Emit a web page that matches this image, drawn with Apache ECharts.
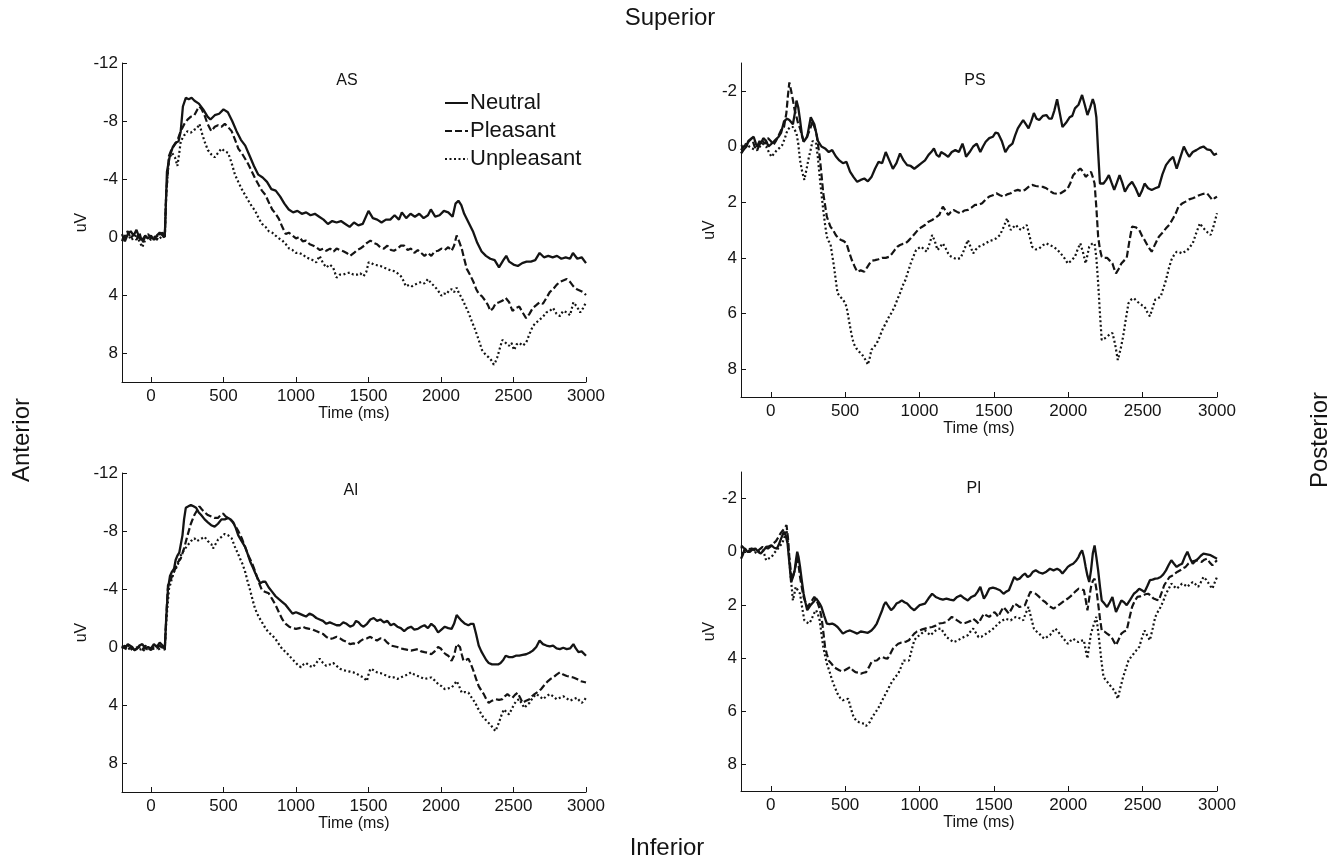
<!DOCTYPE html>
<html><head><meta charset="utf-8">
<script src="https://cdn.jsdelivr.net/npm/echarts@6/dist/echarts.min.js"></script>
<style>html,body{margin:0;padding:0;background:#fff}#c{width:1342px;height:861px}</style>
</head><body><div id="c"></div>
<script>
const xTicks=[0,500,1000,1500,2000,2500,3000];
const yTicksA=[-12,-8,-4,0,4,8];
const yTicksP=[-2,0,2,4,6,8];
const panelTitles=['AS','PS','AI','PI'];
const seriesNames=['Neutral','Pleasant','Unpleasant'];

const AS_neutral=[[-200,-0.2],[-180,0.3],[-160,-0.2],[-140,-0.4],[-120,-0.1],[-100,-0.5],[-80,0.1],[-60,0.2],[-40,-0.1],[-20,0.1],[0,-0.1],[20,0.2],[40,-0.1],[60,-0.3],[80,-0.1],[95,0.0],[110,-4.5],[130,-5.6],[150,-6.2],[170,-6.5],[190,-6.6],[205,-7.3],[220,-9.0],[240,-9.6],[260,-9.5],[280,-9.6],[300,-9.4],[330,-9.2],[360,-8.8],[390,-8.3],[410,-8.1],[440,-8.4],[470,-8.5],[500,-8.8],[530,-8.6],[560,-8.0],[590,-7.3],[620,-6.7],[650,-6.3],[680,-5.6],[710,-4.9],[740,-4.3],[770,-4.1],[800,-3.8],[830,-3.3],[860,-3.2],[890,-2.8],[920,-2.3],[950,-1.9],[980,-1.7],[1010,-1.8],[1040,-1.6],[1070,-1.7],[1100,-1.5],[1130,-1.6],[1160,-1.4],[1190,-1.2],[1220,-0.9],[1250,-1.1],[1280,-1.0],[1310,-1.1],[1340,-0.9],[1370,-0.7],[1400,-1.0],[1430,-0.8],[1460,-0.9],[1500,-1.8],[1530,-1.3],[1560,-1.2],[1590,-1.0],[1620,-1.2],[1650,-1.2],[1680,-1.5],[1710,-1.2],[1730,-1.7],[1760,-1.3],[1790,-1.6],[1820,-1.4],[1850,-1.6],[1880,-1.3],[1910,-1.5],[1930,-1.9],[1960,-1.4],[1990,-1.5],[2020,-1.8],[2050,-1.7],[2080,-1.4],[2100,-2.3],[2120,-2.5],[2140,-2.2],[2160,-1.6],[2190,-1.0],[2220,-0.4],[2250,0.4],[2280,1.0],[2310,1.3],[2340,1.5],[2370,1.6],[2400,2.1],[2430,1.6],[2450,1.3],[2470,1.7],[2500,1.9],[2530,2.0],[2560,1.8],[2590,1.7],[2620,1.7],[2650,1.6],[2680,1.1],[2710,1.4],[2740,1.3],[2770,1.4],[2800,1.3],[2830,1.5],[2860,1.4],[2890,1.5],[2910,1.1],[2940,1.5],[2970,1.4],[3000,1.8]];
const AS_pleasant=[[-200,0.3],[-180,-0.1],[-160,-0.4],[-140,0.1],[-120,-0.2],[-100,0.2],[-80,-0.3],[-60,0.4],[-40,0.0],[-20,-0.2],[0,0.1],[20,-0.1],[40,0.2],[60,-0.2],[80,-0.3],[95,0.0],[105,-3.0],[124,-5.6],[140,-6.0],[159,-6.3],[180,-6.6],[205,-7.3],[230,-7.8],[252,-8.1],[275,-8.3],[299,-8.4],[320,-8.8],[334,-9.0],[350,-8.8],[369,-8.4],[390,-7.8],[416,-7.3],[440,-7.6],[462,-7.7],[485,-7.6],[509,-7.8],[530,-7.6],[556,-7.3],[580,-6.7],[602,-6.1],[625,-5.8],[649,-5.4],[672,-5.0],[696,-4.5],[720,-4.0],[742,-3.6],[765,-3.2],[789,-2.9],[812,-2.4],[836,-1.9],[860,-1.6],[882,-1.25],[905,-0.7],[929,-0.2],[950,-0.3],[976,-0.1],[1000,0.1],[1023,0.0],[1046,0.3],[1069,0.25],[1095,0.5],[1120,0.6],[1139,0.7],[1165,0.9],[1190,0.8],[1209,0.95],[1235,0.8],[1260,1.0],[1280,0.8],[1305,0.9],[1330,1.0],[1349,1.1],[1373,1.3],[1400,1.1],[1420,0.9],[1443,0.8],[1470,0.6],[1490,0.4],[1513,0.25],[1535,0.4],[1559,0.5],[1580,0.7],[1606,0.8],[1630,0.6],[1655,0.9],[1676,0.95],[1700,0.8],[1723,0.6],[1746,0.6],[1770,0.9],[1793,0.8],[1816,1.1],[1840,0.9],[1863,1.1],[1886,1.3],[1910,1.1],[1933,1.3],[1956,1.0],[1980,0.95],[2003,0.8],[2026,0.9],[2050,0.7],[2073,0.95],[2090,0.6],[2108,-0.1],[2125,0.3],[2143,0.8],[2160,1.5],[2178,2.2],[2200,2.6],[2224,3.1],[2243,3.6],[2260,3.9],[2283,4.1],[2306,4.4],[2324,4.7],[2341,5.1],[2360,4.9],[2376,4.6],[2400,4.5],[2423,4.4],[2446,4.2],[2470,4.5],[2493,5.1],[2515,4.9],[2540,4.8],[2563,5.2],[2587,5.6],[2610,5.3],[2633,4.9],[2657,4.7],[2680,4.5],[2703,4.6],[2727,4.2],[2750,3.8],[2773,3.6],[2797,3.3],[2820,3.1],[2843,3.0],[2867,2.9],[2890,3.1],[2913,3.4],[2937,3.6],[2960,3.7],[2980,3.8],[3000,4.0]];
const AS_unpleasant=[[-200,0.2],[-180,0.0],[-160,-0.3],[-140,0.2],[-120,0.1],[-100,-0.2],[-80,0.3],[-60,0.7],[-40,0.2],[-20,0.0],[0,0.2],[20,0.1],[40,-0.1],[60,0.1],[80,-0.1],[95,0.1],[105,-3.0],[124,-5.4],[145,-5.8],[165,-5.5],[182,-4.9],[195,-5.8],[205,-6.6],[228,-7.0],[252,-7.3],[275,-7.2],[299,-7.4],[318,-7.5],[334,-7.8],[350,-7.2],[369,-6.6],[392,-6.0],[415,-5.7],[439,-5.5],[462,-5.8],[486,-6.1],[509,-5.9],[532,-5.8],[556,-5.1],[579,-4.3],[602,-3.8],[626,-3.3],[649,-2.9],[672,-2.5],[696,-2.1],[719,-1.8],[742,-1.3],[766,-0.9],[790,-0.7],[812,-0.4],[836,-0.3],[859,-0.1],[883,0.1],[906,0.25],[930,0.5],[953,0.8],[976,0.9],[1000,1.1],[1023,1.1],[1046,1.2],[1070,1.4],[1093,1.5],[1116,1.6],[1139,1.75],[1163,1.3],[1186,1.8],[1209,2.1],[1233,1.9],[1256,2.1],[1280,2.8],[1303,2.6],[1326,2.6],[1350,2.5],[1373,2.45],[1396,2.6],[1420,2.6],[1443,2.5],[1466,2.7],[1485,2.4],[1501,1.75],[1520,1.8],[1536,1.9],[1560,1.95],[1583,2.0],[1606,2.1],[1630,2.2],[1653,2.3],[1676,2.35],[1700,2.5],[1723,2.7],[1740,3.0],[1758,3.4],[1780,3.3],[1800,3.4],[1816,3.3],[1840,3.2],[1863,3.1],[1886,3.2],[1910,2.9],[1933,3.2],[1956,3.4],[1980,3.7],[2003,4.05],[2020,3.9],[2038,3.95],[2055,3.7],[2073,3.6],[2090,3.8],[2108,3.5],[2125,3.9],[2143,4.2],[2166,4.7],[2189,5.2],[2212,5.8],[2236,6.4],[2260,7.1],[2283,7.8],[2306,8.1],[2329,8.3],[2347,8.5],[2364,8.8],[2376,8.6],[2388,8.3],[2405,7.7],[2423,7.1],[2446,7.3],[2469,7.5],[2486,7.3],[2504,7.8],[2522,7.4],[2540,7.3],[2563,7.5],[2587,7.3],[2610,6.7],[2633,6.15],[2657,5.9],[2680,5.7],[2703,5.5],[2727,5.2],[2750,5.1],[2773,4.9],[2797,5.3],[2820,5.45],[2843,5.1],[2867,5.2],[2890,5.4],[2913,4.5],[2937,4.8],[2960,5.2],[2980,4.9],[3000,4.5]];

const PS_neutral=[[-200,0.25],[-180,0.1],[-163,0.0],[-150,-0.2],[-139,-0.17],[-115,-0.35],[-100,-0.1],[-91,0.0],[-75,-0.2],[-67,-0.1],[-50,-0.3],[-31,-0.2],[-15,0.0],[5,-0.1],[25,-0.2],[53,-0.35],[70,-0.5],[89,-0.9],[110,-1.0],[125,-0.95],[149,-0.8],[162,-1.2],[173,-1.65],[185,-1.4],[197,-0.95],[210,-0.4],[221,-0.17],[233,-0.2],[245,-0.35],[257,-0.7],[269,-1.05],[281,-1.0],[293,-0.8],[305,-0.5],[317,-0.2],[341,0.0],[365,0.07],[390,0.2],[413,0.13],[437,0.35],[461,0.5],[485,0.6],[509,0.55],[533,0.9],[557,1.1],[581,1.27],[605,1.2],[629,1.15],[653,1.25],[677,1.1],[701,0.8],[725,0.55],[749,0.6],[773,0.2],[797,0.5],[821,0.8],[845,0.6],[869,0.25],[893,0.5],[917,0.67],[941,0.7],[965,0.8],[989,0.7],[1013,0.6],[1037,0.5],[1061,0.3],[1079,0.2],[1097,0.07],[1115,0.3],[1133,0.37],[1145,0.2],[1157,0.13],[1175,0.3],[1193,0.37],[1217,0.2],[1241,0.13],[1265,0.2],[1289,-0.1],[1301,0.1],[1313,0.37],[1337,0.2],[1361,0.0],[1385,-0.1],[1409,0.2],[1427,0.0],[1445,-0.17],[1469,-0.3],[1493,-0.35],[1511,-0.5],[1529,-0.47],[1553,-0.2],[1577,0.2],[1601,0.0],[1625,-0.1],[1643,-0.4],[1661,-0.65],[1679,-0.8],[1697,-0.95],[1715,-0.8],[1733,-0.65],[1751,-0.9],[1769,-1.2],[1787,-1.0],[1805,-0.95],[1829,-1.1],[1853,-1.13],[1871,-1.0],[1889,-1.0],[1907,-1.3],[1925,-1.7],[1943,-1.2],[1961,-0.7],[1985,-0.85],[2009,-1.05],[2027,-1.1],[2045,-1.37],[2069,-1.5],[2093,-1.85],[2111,-1.5],[2129,-1.13],[2147,-1.4],[2165,-1.7],[2177,-1.5],[2189,-1.05],[2201,0.2],[2213,1.33],[2237,1.33],[2255,1.2],[2273,1.03],[2291,1.3],[2309,1.56],[2327,1.3],[2345,1.03],[2363,1.3],[2381,1.62],[2405,1.4],[2429,1.27],[2453,1.5],[2477,1.8],[2495,1.6],[2513,1.33],[2537,1.5],[2561,1.56],[2585,1.5],[2609,1.45],[2633,1.0],[2657,0.67],[2681,0.5],[2705,0.37],[2729,0.8],[2753,0.4],[2777,0.0],[2795,0.2],[2813,0.37],[2837,0.2],[2861,0.13],[2885,0.05],[2909,0.0],[2933,0.1],[2957,0.13],[2980,0.3],[3000,0.25]];
const PS_pleasant=[[-200,0.13],[-182,0.0],[-163,-0.1],[-145,-0.2],[-127,-0.3],[-109,0.0],[-91,0.13],[-73,-0.1],[-55,-0.2],[-37,-0.1],[-19,-0.3],[0,-0.2],[17,-0.05],[35,-0.2],[53,-0.4],[71,-0.6],[89,-0.7],[105,-1.2],[115,-1.8],[125,-2.3],[137,-2.0],[149,-1.67],[161,-1.3],[173,-1.07],[185,-0.8],[197,-0.65],[209,-0.4],[221,-0.2],[239,-0.3],[257,-0.53],[269,-0.7],[281,-0.9],[293,-0.7],[305,-0.53],[317,-0.1],[329,0.37],[341,1.0],[353,1.68],[365,2.1],[377,2.52],[389,2.7],[401,2.88],[419,3.0],[437,3.18],[455,3.3],[473,3.36],[491,3.4],[509,3.48],[527,3.8],[545,4.08],[563,4.3],[581,4.5],[605,4.45],[629,4.5],[647,4.35],[665,4.2],[683,4.1],[701,4.08],[725,4.05],[749,4.0],[773,4.0],[797,3.96],[815,3.85],[833,3.72],[851,3.6],[869,3.54],[887,3.5],[905,3.48],[923,3.4],[941,3.3],[965,3.15],[989,3.0],[1013,2.9],[1037,2.82],[1061,2.7],[1085,2.64],[1109,2.55],[1133,2.46],[1145,2.3],[1157,2.16],[1175,2.3],[1193,2.46],[1211,2.35],[1229,2.28],[1253,2.35],[1277,2.4],[1301,2.3],[1325,2.28],[1349,2.2],[1373,2.1],[1397,2.1],[1421,2.04],[1445,1.9],[1469,1.8],[1493,1.75],[1517,1.68],[1541,1.75],[1565,1.8],[1589,1.72],[1613,1.68],[1637,1.6],[1661,1.56],[1685,1.6],[1709,1.56],[1733,1.45],[1757,1.38],[1781,1.42],[1805,1.44],[1829,1.45],[1853,1.5],[1877,1.6],[1901,1.68],[1925,1.7],[1949,1.68],[1973,1.6],[1997,1.5],[2015,1.3],[2033,1.03],[2057,0.9],[2081,0.79],[2099,0.9],[2117,1.09],[2135,1.0],[2153,0.91],[2165,1.1],[2177,1.33],[2189,2.2],[2201,3.24],[2213,3.7],[2225,3.96],[2243,4.0],[2261,4.0],[2279,4.1],[2297,4.2],[2309,4.4],[2321,4.56],[2339,4.4],[2357,4.2],[2375,4.1],[2393,4.0],[2411,3.4],[2429,2.88],[2453,2.9],[2477,3.0],[2495,3.2],[2513,3.36],[2537,3.6],[2561,3.78],[2585,3.5],[2609,3.24],[2633,3.1],[2657,2.94],[2681,2.8],[2705,2.58],[2723,2.4],[2741,2.16],[2765,2.05],[2789,1.98],[2813,1.9],[2837,1.86],[2861,1.8],[2885,1.74],[2909,1.7],[2933,1.68],[2951,1.8],[2969,1.92],[2985,1.85],[3000,1.8]];
const PS_unpleasant=[[-200,0.0],[-182,-0.05],[-163,-0.1],[-145,0.0],[-127,0.07],[-109,0.1],[-91,0.13],[-73,0.0],[-55,-0.1],[-43,-0.05],[-31,0.0],[-13,0.2],[5,0.37],[23,0.25],[41,0.13],[59,0.05],[77,-0.05],[95,-0.3],[113,-0.6],[131,-0.7],[149,-0.7],[161,-0.6],[173,-0.47],[185,-0.1],[197,0.5],[211,0.9],[226,1.2],[241,0.8],[257,0.37],[269,0.1],[281,-0.2],[293,-0.15],[305,-0.1],[317,0.4],[329,1.09],[341,1.7],[353,2.28],[365,2.8],[377,3.24],[389,3.4],[401,3.48],[413,3.9],[425,4.3],[437,4.8],[449,5.27],[467,5.4],[485,5.5],[497,5.6],[509,5.75],[521,6.1],[533,6.47],[545,6.8],[557,7.07],[575,7.25],[593,7.37],[611,7.45],[629,7.6],[641,7.7],[653,7.84],[665,7.6],[677,7.3],[695,7.2],[713,7.07],[731,6.85],[749,6.6],[773,6.35],[797,6.1],[815,5.95],[833,5.75],[851,5.5],[869,5.27],[887,5.0],[905,4.8],[923,4.5],[941,4.2],[959,3.95],[977,3.72],[995,3.65],[1013,3.6],[1031,3.7],[1049,3.78],[1067,3.5],[1085,3.18],[1103,3.4],[1121,3.72],[1139,3.6],[1157,3.48],[1175,3.65],[1193,3.84],[1211,3.95],[1229,4.0],[1253,4.05],[1277,4.0],[1301,3.7],[1325,3.36],[1343,3.6],[1361,3.84],[1379,3.7],[1397,3.6],[1421,3.55],[1445,3.48],[1469,3.4],[1493,3.36],[1517,3.3],[1541,3.18],[1565,2.9],[1589,2.58],[1601,2.8],[1613,3.0],[1631,2.9],[1649,2.82],[1667,2.95],[1685,3.0],[1703,2.9],[1721,2.82],[1739,3.2],[1757,3.6],[1781,3.7],[1805,3.66],[1829,3.55],[1853,3.48],[1877,3.55],[1901,3.6],[1925,3.7],[1949,3.84],[1973,4.0],[1997,4.2],[2021,4.1],[2045,3.96],[2063,3.7],[2081,3.48],[2099,3.8],[2117,4.2],[2129,3.9],[2141,3.6],[2159,3.5],[2177,3.48],[2189,4.0],[2201,4.9],[2213,6.0],[2225,6.95],[2243,6.9],[2261,6.83],[2279,6.75],[2297,6.7],[2315,7.1],[2333,7.67],[2351,7.3],[2369,6.83],[2387,6.2],[2405,5.63],[2423,5.5],[2441,5.45],[2459,5.55],[2477,5.63],[2495,5.7],[2513,5.75],[2531,5.95],[2549,6.1],[2567,5.8],[2585,5.5],[2603,5.45],[2621,5.4],[2639,5.1],[2657,4.8],[2675,4.4],[2693,4.08],[2711,3.9],[2729,3.78],[2747,3.8],[2765,3.84],[2783,3.78],[2801,3.72],[2819,3.6],[2837,3.48],[2861,3.1],[2885,2.76],[2903,2.9],[2921,3.0],[2939,3.1],[2957,3.18],[2975,2.9],[3000,2.4]];

const AI_neutral=[[-200,-0.1],[-180,0.1],[-160,-0.2],[-150,-0.3],[-130,0.0],[-115,0.2],[-100,0.15],[-80,-0.1],[-60,-0.2],[-40,0.1],[-20,0.0],[0,0.1],[20,-0.2],[40,0.0],[60,-0.3],[80,-0.1],[95,0.15],[105,-2.0],[117,-4.0],[131,-4.9],[145,-5.2],[159,-5.4],[170,-6.0],[182,-6.3],[195,-6.5],[205,-6.6],[217,-7.7],[228,-8.8],[240,-9.6],[258,-9.7],[275,-9.8],[293,-9.7],[311,-9.6],[328,-9.3],[346,-9.1],[370,-8.8],[392,-8.6],[415,-8.4],[439,-8.3],[462,-8.5],[486,-8.8],[509,-8.8],[532,-8.9],[550,-8.8],[567,-8.6],[585,-8.2],[602,-7.7],[625,-7.3],[649,-6.9],[667,-6.4],[684,-5.9],[702,-5.5],[719,-5.1],[737,-4.7],[754,-4.4],[771,-4.5],[789,-4.5],[812,-4.1],[836,-3.8],[859,-3.5],[882,-3.3],[906,-3.1],[929,-2.9],[952,-2.6],[976,-2.3],[1000,-2.4],[1023,-2.3],[1046,-2.2],[1069,-2.1],[1093,-2.3],[1116,-2.2],[1140,-2.0],[1163,-1.9],[1186,-1.8],[1209,-1.6],[1233,-1.7],[1256,-1.6],[1280,-1.5],[1303,-1.5],[1326,-1.7],[1349,-1.6],[1373,-1.4],[1396,-1.5],[1414,-1.8],[1431,-1.7],[1449,-1.5],[1466,-1.4],[1490,-1.6],[1513,-1.9],[1536,-2.0],[1559,-1.8],[1582,-1.9],[1606,-1.7],[1630,-1.8],[1653,-1.5],[1676,-1.6],[1699,-1.4],[1723,-1.3],[1746,-1.1],[1770,-1.3],[1793,-1.4],[1816,-1.2],[1840,-1.25],[1863,-1.4],[1886,-1.5],[1910,-1.3],[1933,-1.6],[1956,-1.4],[1980,-1.0],[2003,-1.2],[2026,-1.4],[2050,-1.3],[2073,-1.25],[2090,-1.6],[2108,-2.2],[2125,-2.0],[2143,-1.8],[2166,-1.6],[2189,-1.5],[2207,-1.6],[2224,-1.6],[2242,-0.9],[2260,-0.1],[2278,0.3],[2295,0.6],[2312,0.9],[2329,1.1],[2352,1.2],[2376,1.2],[2394,1.2],[2411,1.1],[2429,0.9],[2446,0.6],[2470,0.7],[2493,0.7],[2516,0.6],[2540,0.6],[2563,0.55],[2587,0.5],[2610,0.4],[2633,0.25],[2657,0.0],[2680,-0.45],[2703,-0.2],[2727,-0.1],[2750,-0.05],[2773,-0.1],[2797,0.1],[2820,0.15],[2843,0.05],[2867,0.15],[2890,0.1],[2913,-0.2],[2930,0.1],[2948,0.35],[2970,0.3],[3000,0.6]];
const AI_pleasant=[[-200,0.1],[-180,-0.1],[-160,0.2],[-140,0.0],[-120,0.3],[-100,0.1],[-80,0.0],[-60,0.2],[-40,-0.1],[-20,0.1],[0,0.2],[20,0.0],[40,0.1],[60,-0.1],[80,0.1],[95,0.2],[105,-2.0],[117,-4.25],[138,-4.7],[159,-5.2],[182,-5.8],[205,-6.1],[228,-6.8],[252,-7.7],[275,-8.5],[299,-9.1],[316,-9.4],[334,-9.7],[350,-9.5],[369,-9.3],[392,-9.1],[416,-9.0],[439,-8.9],[462,-8.9],[480,-9.1],[497,-9.2],[515,-9.0],[532,-8.9],[556,-8.7],[579,-8.4],[602,-8.0],[626,-7.5],[649,-6.9],[672,-6.3],[696,-5.8],[719,-5.2],[742,-4.5],[766,-3.9],[789,-3.8],[812,-3.7],[836,-3.3],[859,-2.9],[882,-2.4],[906,-1.9],[929,-1.6],[953,-1.4],[976,-1.3],[1000,-1.25],[1023,-1.3],[1046,-1.4],[1069,-1.3],[1093,-1.25],[1116,-1.2],[1139,-1.1],[1163,-1.0],[1186,-0.9],[1209,-0.7],[1233,-0.55],[1256,-0.6],[1280,-0.7],[1303,-0.6],[1326,-0.45],[1349,-0.35],[1373,-0.2],[1396,-0.25],[1420,-0.2],[1443,-0.4],[1466,-0.55],[1490,-0.6],[1513,-0.7],[1536,-0.55],[1559,-0.45],[1582,-0.6],[1606,-0.55],[1630,-0.3],[1653,-0.1],[1676,-0.05],[1699,0.0],[1723,0.1],[1746,0.15],[1770,0.2],[1793,0.25],[1816,0.2],[1840,0.15],[1863,0.3],[1886,0.35],[1910,0.4],[1933,0.5],[1956,0.3],[1980,0.0],[1998,0.1],[2015,0.35],[2033,0.5],[2050,0.6],[2073,0.95],[2090,0.6],[2108,-0.2],[2120,-0.1],[2131,0.0],[2143,0.5],[2155,0.95],[2172,0.9],[2189,0.8],[2207,1.2],[2224,1.65],[2242,2.2],[2260,2.7],[2278,3.0],[2295,3.25],[2312,3.6],[2329,3.85],[2352,3.7],[2376,3.6],[2400,3.65],[2423,3.6],[2440,3.4],[2458,3.25],[2476,3.4],[2493,3.5],[2510,3.3],[2528,3.15],[2546,3.5],[2563,3.85],[2587,3.7],[2610,3.6],[2627,3.4],[2645,3.25],[2668,3.1],[2691,2.9],[2715,2.6],[2738,2.35],[2756,2.2],[2773,2.1],[2797,1.9],[2820,1.75],[2843,1.9],[2867,2.0],[2890,2.05],[2913,2.1],[2937,2.2],[2960,2.35],[2980,2.4],[3000,2.45]];
const AI_unpleasant=[[-200,0.0],[-180,0.2],[-160,-0.1],[-140,0.1],[-120,0.3],[-100,0.0],[-80,0.2],[-60,0.1],[-40,0.3],[-20,0.0],[0,0.2],[20,0.1],[40,-0.1],[60,0.2],[80,0.0],[95,0.1],[107,-2.0],[124,-4.0],[141,-4.6],[159,-5.2],[182,-5.6],[205,-6.3],[228,-6.7],[252,-7.0],[275,-7.3],[299,-7.5],[316,-7.3],[334,-7.4],[352,-7.5],[369,-7.6],[392,-7.3],[416,-7.1],[428,-6.8],[439,-6.8],[451,-7.2],[462,-7.4],[486,-7.6],[509,-7.8],[532,-7.7],[556,-7.5],[579,-6.9],[597,-6.5],[614,-6.1],[632,-5.7],[649,-5.2],[667,-4.5],[684,-3.9],[702,-3.2],[719,-2.6],[742,-2.1],[766,-1.7],[789,-1.3],[812,-1.0],[836,-0.8],[859,-0.55],[882,-0.2],[906,0.15],[930,0.35],[953,0.6],[976,0.85],[1000,1.1],[1018,1.3],[1035,1.4],[1052,1.2],[1069,1.1],[1093,1.3],[1116,1.4],[1140,1.1],[1163,0.8],[1186,1.1],[1209,1.3],[1233,1.2],[1256,1.1],[1280,1.3],[1303,1.5],[1326,1.6],[1349,1.65],[1373,1.7],[1396,1.75],[1420,1.85],[1443,2.0],[1466,2.1],[1489,2.35],[1500,1.9],[1513,1.5],[1536,1.6],[1559,1.75],[1582,1.8],[1606,1.9],[1630,2.0],[1653,2.1],[1676,2.1],[1699,2.2],[1723,2.1],[1746,2.0],[1770,1.9],[1793,1.75],[1816,1.9],[1840,2.0],[1863,2.1],[1886,2.2],[1910,2.15],[1933,2.1],[1956,2.3],[1980,2.55],[2003,2.7],[2026,2.9],[2050,2.85],[2073,2.8],[2090,2.6],[2108,2.35],[2125,2.7],[2143,3.15],[2166,3.1],[2189,3.15],[2212,3.5],[2236,3.85],[2253,4.2],[2271,4.5],[2288,4.8],[2306,5.0],[2324,5.2],[2341,5.35],[2359,5.6],[2376,5.8],[2388,5.5],[2400,5.2],[2417,4.7],[2434,4.3],[2452,4.5],[2469,4.65],[2487,4.3],[2504,3.95],[2522,3.7],[2540,3.6],[2557,3.9],[2575,4.2],[2592,4.0],[2610,3.85],[2633,3.5],[2657,3.25],[2680,3.4],[2703,3.6],[2727,3.4],[2750,3.25],[2773,3.4],[2797,3.6],[2820,3.5],[2843,3.4],[2867,3.55],[2890,3.7],[2913,3.6],[2937,3.5],[2955,3.7],[2972,3.85],[2986,3.7],[3000,3.5]];

const PI_neutral=[[-200,0.26],[-187,0.1],[-175,-0.12],[-157,0.0],[-139,0.0],[-121,-0.1],[-103,-0.12],[-85,0.0],[-67,0.07],[-49,-0.05],[-31,-0.18],[-13,-0.2],[5,-0.24],[23,-0.15],[41,-0.12],[53,-0.25],[65,-0.43],[77,-0.6],[89,-0.75],[101,-0.6],[113,-0.31],[125,0.4],[137,1.14],[149,0.95],[161,0.7],[170,0.3],[178,0.0],[187,0.2],[197,0.57],[209,1.1],[221,1.58],[233,1.9],[245,2.2],[257,2.1],[269,2.0],[281,1.95],[293,1.85],[305,1.76],[317,1.85],[329,1.95],[341,2.08],[359,2.4],[377,2.7],[395,2.72],[413,2.7],[431,2.75],[449,2.83],[467,2.95],[485,3.08],[509,3.0],[533,2.96],[557,3.02],[581,3.08],[605,3.0],[629,3.02],[653,3.05],[677,2.96],[695,2.85],[713,2.7],[731,2.45],[749,2.2],[761,2.0],[773,1.89],[791,2.05],[809,2.2],[827,2.1],[845,1.95],[863,1.9],[881,1.83],[899,1.9],[917,1.95],[941,2.1],[965,2.2],[983,2.1],[1001,2.01],[1019,1.98],[1037,1.95],[1061,1.75],[1085,1.58],[1109,1.7],[1133,1.76],[1157,1.8],[1181,1.76],[1205,1.8],[1229,1.83],[1253,1.7],[1277,1.64],[1301,1.75],[1325,1.83],[1349,1.7],[1373,1.64],[1391,1.5],[1409,1.32],[1421,1.55],[1433,1.76],[1451,1.6],[1469,1.39],[1493,1.35],[1517,1.39],[1541,1.45],[1565,1.58],[1583,1.5],[1601,1.45],[1619,1.2],[1637,0.95],[1655,1.05],[1673,1.01],[1691,0.9],[1709,0.82],[1727,0.95],[1745,0.89],[1763,0.75],[1781,0.7],[1805,0.78],[1829,0.82],[1853,0.75],[1877,0.64],[1901,0.7],[1925,0.64],[1943,0.7],[1961,0.82],[1979,0.7],[1997,0.57],[2015,0.5],[2033,0.45],[2051,0.35],[2069,0.2],[2081,0.05],[2093,-0.05],[2105,0.2],[2117,0.57],[2129,0.9],[2141,1.14],[2153,0.7],[2165,0.07],[2177,-0.24],[2189,0.2],[2201,0.7],[2213,1.3],[2225,1.83],[2243,1.95],[2261,2.08],[2279,1.9],[2297,1.7],[2309,2.0],[2321,2.27],[2339,2.05],[2357,1.83],[2375,1.9],[2393,2.01],[2417,1.8],[2441,1.58],[2459,1.5],[2477,1.39],[2495,1.45],[2513,1.51],[2531,1.3],[2549,1.07],[2567,1.05],[2585,1.01],[2603,1.0],[2621,0.95],[2639,0.85],[2657,0.7],[2675,0.5],[2693,0.32],[2711,0.45],[2729,0.57],[2747,0.5],[2765,0.45],[2783,0.2],[2801,0.0],[2819,0.25],[2837,0.45],[2855,0.35],[2873,0.26],[2891,0.15],[2909,0.07],[2933,0.1],[2957,0.13],[2979,0.2],[3000,0.26]];
const PI_pleasant=[[-200,-0.24],[-182,-0.15],[-163,-0.06],[-145,-0.1],[-127,-0.12],[-109,-0.05],[-91,0.0],[-73,-0.1],[-55,-0.18],[-37,-0.15],[-19,-0.12],[0,-0.2],[17,-0.31],[35,-0.4],[53,-0.56],[67,-0.7],[82,-0.81],[94,-0.9],[106,-1.0],[116,-0.5],[125,0.2],[134,0.7],[142,1.07],[151,0.9],[161,0.7],[170,0.45],[178,0.2],[187,0.5],[197,0.95],[209,1.35],[221,1.7],[233,1.9],[245,2.08],[257,2.0],[269,1.89],[281,1.8],[293,1.7],[305,1.8],[317,1.95],[329,2.15],[341,2.45],[353,3.0],[365,3.58],[377,3.85],[389,4.09],[407,4.2],[425,4.34],[443,4.4],[461,4.46],[479,4.5],[497,4.46],[515,4.4],[533,4.34],[551,4.45],[569,4.53],[587,4.55],[605,4.59],[623,4.55],[641,4.53],[659,4.35],[677,4.15],[695,4.1],[713,4.09],[731,4.0],[749,3.96],[767,4.0],[785,4.02],[803,3.85],[821,3.65],[839,3.55],[857,3.46],[875,3.42],[893,3.4],[911,3.38],[929,3.33],[947,3.2],[965,3.08],[983,3.0],[1001,2.96],[1019,2.92],[1037,2.89],[1061,2.85],[1085,2.83],[1109,2.78],[1133,2.7],[1157,2.68],[1181,2.64],[1199,2.55],[1217,2.45],[1235,2.5],[1253,2.58],[1271,2.65],[1289,2.7],[1307,2.68],[1325,2.64],[1343,2.6],[1361,2.52],[1379,2.6],[1397,2.7],[1415,2.5],[1433,2.33],[1451,2.4],[1469,2.45],[1487,2.35],[1505,2.27],[1517,2.35],[1529,2.45],[1547,2.25],[1565,2.08],[1583,2.2],[1601,2.33],[1619,2.15],[1637,1.95],[1655,2.0],[1673,2.08],[1691,2.05],[1709,2.01],[1727,1.75],[1745,1.51],[1763,1.55],[1781,1.58],[1805,1.7],[1829,1.83],[1847,1.9],[1865,2.01],[1883,2.08],[1901,2.14],[1925,2.05],[1949,1.95],[1973,1.85],[1997,1.76],[2015,1.68],[2033,1.58],[2051,1.48],[2069,1.39],[2087,1.4],[2105,1.45],[2117,1.8],[2129,2.2],[2141,1.75],[2153,1.32],[2165,1.1],[2177,1.01],[2189,1.4],[2201,1.95],[2213,2.5],[2225,2.96],[2243,3.0],[2261,3.08],[2279,3.15],[2297,3.27],[2309,3.4],[2321,3.52],[2339,3.3],[2357,3.08],[2375,3.0],[2393,2.96],[2411,2.5],[2429,2.08],[2447,1.85],[2465,1.7],[2483,1.68],[2501,1.64],[2519,1.6],[2537,1.58],[2555,1.65],[2573,1.76],[2591,1.8],[2609,1.83],[2627,1.55],[2645,1.26],[2663,1.1],[2681,0.95],[2699,0.9],[2717,0.82],[2735,0.75],[2753,0.7],[2771,0.62],[2789,0.57],[2807,0.45],[2825,0.38],[2843,0.35],[2861,0.32],[2879,0.35],[2897,0.38],[2915,0.3],[2933,0.26],[2951,0.4],[2969,0.51],[2985,0.4],[3000,0.32]];
const PI_unpleasant=[[-200,-0.18],[-182,-0.08],[-163,0.0],[-145,-0.05],[-127,-0.12],[-109,0.0],[-91,0.07],[-73,0.0],[-55,-0.06],[-43,0.1],[-31,0.32],[-13,0.25],[5,0.2],[23,0.05],[41,-0.06],[59,-0.2],[77,-0.31],[92,-0.55],[106,-0.81],[116,-0.3],[125,0.32],[137,1.1],[149,1.83],[158,1.6],[168,1.32],[182,1.45],[197,1.58],[211,2.1],[226,2.58],[241,2.65],[257,2.7],[269,2.6],[281,2.45],[293,2.3],[305,2.2],[317,2.35],[329,2.58],[341,3.1],[353,3.58],[365,3.9],[377,4.21],[395,4.5],[413,4.84],[431,5.1],[449,5.34],[467,5.5],[485,5.59],[503,5.55],[521,5.53],[539,5.9],[557,6.22],[575,6.35],[593,6.41],[611,6.45],[629,6.47],[641,6.55],[653,6.6],[667,6.4],[682,6.22],[697,6.1],[713,5.97],[731,5.8],[749,5.59],[767,5.4],[785,5.21],[803,5.0],[821,4.84],[839,4.7],[857,4.59],[875,4.35],[893,4.09],[911,4.1],[929,4.09],[947,3.7],[965,3.33],[983,3.2],[1001,3.14],[1019,3.05],[1037,2.96],[1055,3.05],[1073,3.14],[1091,3.05],[1109,2.96],[1127,2.9],[1145,2.89],[1163,3.05],[1181,3.21],[1205,3.3],[1229,3.4],[1253,3.35],[1277,3.27],[1301,3.2],[1325,3.14],[1343,3.0],[1361,2.89],[1379,3.05],[1397,3.21],[1415,3.2],[1433,3.14],[1457,3.05],[1481,2.96],[1505,2.85],[1529,2.7],[1553,2.6],[1577,2.52],[1595,2.55],[1613,2.58],[1631,2.5],[1649,2.45],[1673,2.5],[1697,2.58],[1715,2.3],[1733,2.08],[1751,2.5],[1769,2.89],[1787,3.0],[1805,3.08],[1823,3.2],[1841,3.27],[1859,3.2],[1877,3.14],[1895,3.0],[1913,2.89],[1931,3.0],[1949,3.14],[1973,3.3],[1997,3.46],[2015,3.35],[2033,3.27],[2051,3.35],[2069,3.4],[2087,3.35],[2105,3.33],[2117,3.7],[2129,4.02],[2141,3.5],[2153,3.08],[2171,2.75],[2189,2.45],[2201,3.0],[2213,3.58],[2225,4.2],[2237,4.71],[2255,4.85],[2273,4.96],[2291,5.1],[2309,5.21],[2321,5.35],[2333,5.53],[2351,5.1],[2369,4.71],[2387,4.4],[2405,4.09],[2423,3.95],[2441,3.83],[2459,3.7],[2477,3.58],[2495,3.25],[2513,2.96],[2531,3.15],[2549,3.33],[2567,2.9],[2585,2.45],[2603,2.25],[2621,2.08],[2639,1.85],[2657,1.58],[2675,1.4],[2693,1.2],[2711,1.3],[2729,1.39],[2747,1.3],[2765,1.2],[2783,1.25],[2801,1.32],[2819,1.22],[2837,1.14],[2855,1.22],[2873,1.32],[2891,1.15],[2909,0.95],[2927,1.05],[2945,1.2],[2957,1.3],[2969,1.39],[2985,1.15],[3000,0.95]];

const panelData=[
  [AS_neutral,AS_pleasant,AS_unpleasant],
  [PS_neutral,PS_pleasant,PS_unpleasant],
  [AI_neutral,AI_pleasant,AI_unpleasant],
  [PI_neutral,PI_pleasant,PI_unpleasant]
];

const FONT='"Liberation Sans", Arial, Helvetica, sans-serif';
const INK='#141414';
const grids=[
  {left:122,top:63,width:464,height:319},
  {left:741,top:63,width:476,height:334},
  {left:122,top:473,width:464,height:319},
  {left:741,top:472,width:476,height:319}
];
const yRanges=[[-12,10],[-3,9],[-12,10],[-3,9]];
const yTicks=[yTicksA,yTicksP,yTicksA,yTicksP];
const lineTypes=['solid',[7,3],[2,2.5]];
const lineWidths=[2.3,2.2,2.2];
const titlePos=[[347,81],[975,81],[351,491],[974,489]];

const chart=echarts.init(document.getElementById('c'),null,{renderer:'canvas'});
const xAxes=[],yAxes=[],series=[],graphics=[];
grids.forEach((g,i)=>{
  xAxes.push({type:'value',gridIndex:i,min:-200,max:3000,
    name:'Time (ms)',nameLocation:'middle',nameGap:22,
    nameTextStyle:{fontSize:16,fontFamily:FONT,color:INK},
    axisLine:{show:true,onZero:false,lineStyle:{color:INK,width:1}},
    axisTick:{show:true,inside:true,length:5,customValues:xTicks,lineStyle:{color:INK,width:1}},
    axisLabel:{show:true,customValues:xTicks,fontSize:17,fontFamily:FONT,color:INK,margin:6,formatter:v=>String(v)},
    splitLine:{show:false}});
  yAxes.push({type:'value',gridIndex:i,min:yRanges[i][0],max:yRanges[i][1],inverse:true,
    name:'uV',nameLocation:'middle',nameGap:21,
    nameTextStyle:{fontSize:16,fontFamily:FONT,color:INK},
    axisLine:{show:true,onZero:false,lineStyle:{color:INK,width:1}},
    axisTick:{show:true,inside:true,length:5,customValues:yTicks[i],lineStyle:{color:INK,width:1}},
    axisLabel:{show:true,customValues:yTicks[i],fontSize:17,fontFamily:FONT,color:INK,margin:4,formatter:v=>String(v)},
    splitLine:{show:false}});
  panelData[i].forEach((d,k)=>{
    series.push({type:'line',name:seriesNames[k],xAxisIndex:i,yAxisIndex:i,data:d,
      symbol:'none',showSymbol:false,smooth:false,silent:true,
      lineStyle:{color:INK,width:lineWidths[k],type:lineTypes[k]},itemStyle:{color:INK}});
  });
  graphics.push({type:'text',x:titlePos[i][0],y:titlePos[i][1],
    style:{text:panelTitles[i],fontSize:16,fontFamily:FONT,fill:INK,align:'center',verticalAlign:'middle'}});
});
graphics.push({type:'text',x:670,y:18,style:{text:'Superior',fontSize:24,fontFamily:FONT,fill:INK,align:'center',verticalAlign:'middle'}});
graphics.push({type:'text',x:667,y:848,style:{text:'Inferior',fontSize:24,fontFamily:FONT,fill:INK,align:'center',verticalAlign:'middle'}});
graphics.push({type:'text',x:22,y:440,rotation:Math.PI/2,style:{text:'Anterior',fontSize:24,fontFamily:FONT,fill:INK,align:'center',verticalAlign:'middle'}});
graphics.push({type:'text',x:1320,y:440,rotation:Math.PI/2,style:{text:'Posterior',fontSize:24,fontFamily:FONT,fill:INK,align:'center',verticalAlign:'middle'}});

chart.setOption({
  animation:false,
  backgroundColor:'#fff',
  grid:grids,
  xAxis:xAxes,
  yAxis:yAxes,
  series:series,
  legend:{data:seriesNames,orient:'vertical',left:439,top:87,itemWidth:23,itemHeight:14,itemGap:6,
    selectedMode:false,
    textStyle:{fontSize:22,fontFamily:FONT,color:INK,padding:[0,0,0,-3]},
    itemStyle:{opacity:0},
    lineStyle:{width:2}},
  graphic:graphics
});
</script></body></html>
